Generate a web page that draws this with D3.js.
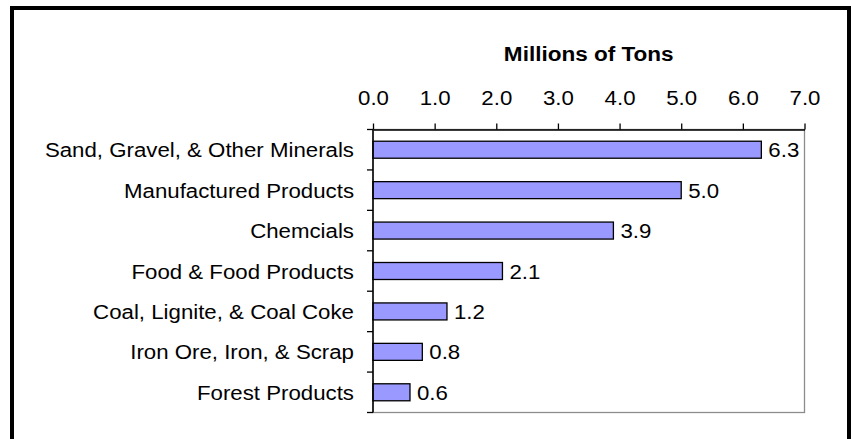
<!DOCTYPE html>
<html><head><meta charset="utf-8">
<script src="https://cdn.jsdelivr.net/npm/d3@7"></script>
<style>body{margin:0;background:#fff;}svg{display:block;font-family:"Liberation Sans",Arial,sans-serif;}</style>
</head><body>
<svg id="c" width="851" height="439"></svg>
<script>
const categories = ["Sand, Gravel, & Other Minerals","Manufactured Products","Chemcials","Food & Food Products","Coal, Lignite, & Coal Coke","Iron Ore, Iron, & Scrap","Forest Products"];
const values = [6.3, 5.0, 3.9, 2.1, 1.2, 0.8, 0.6];
const valueLabels = ["6.3","5.0","3.9","2.1","1.2","0.8","0.6"];
const tickValues = [0,1,2,3,4,5,6,7];
const axisTitle = "Millions of Tons";

const FS = 21;
const SX = 1.06; // horizontal text stretch seen in the reference
const svg = d3.select("#c");
svg.append("rect").attr("x",12).attr("y",8).attr("width",837).attr("height",450)
  .attr("fill","#fff").attr("stroke","#000").attr("stroke-width",4);

const x = d3.scaleLinear().domain([0,7]).range([373,804.5]);
const band = d3.scaleBand().domain(categories).range([129.5,412.5]);

// plot area border (right, bottom gray)
svg.append("rect").attr("x",x(0)).attr("y",129.5).attr("width",x(7)-x(0)).attr("height",283)
  .attr("fill","none").attr("stroke","#8c8c8c").attr("stroke-width",1.3);

// bars
svg.selectAll("rect.bar").data(values).join("rect").attr("class","bar")
  .attr("x",x(0)).attr("y",(d,i)=>band(categories[i])+band.bandwidth()/2-8.5)
  .attr("width",d=>x(d)-x(0)).attr("height",17)
  .attr("fill","#9999ff").attr("stroke","#000").attr("stroke-width",1.3);

// value labels
svg.selectAll("text.val").data(values).join("text").attr("class","val")
  .attr("transform",(d,i)=>`translate(${x(d)+7},${band(categories[i])+band.bandwidth()/2+7.5}) scale(${SX},1)`)
  .attr("font-size",FS).attr("fill","#000").text((d,i)=>valueLabels[i]);

// top axis
const xAxis = d3.axisTop(x).tickValues(tickValues).tickFormat(d3.format(".1f")).tickSize(6).tickSizeOuter(0).tickPadding(19);
const gx = svg.append("g").attr("transform","translate(0,129.5)").call(xAxis);
gx.select(".domain").attr("stroke","#000").attr("stroke-width",1.3);
gx.selectAll(".tick line").attr("stroke","#000").attr("stroke-width",1.3);
gx.selectAll(".tick text").attr("font-size",FS).attr("fill","#000")
  .attr("font-family","Liberation Sans, Arial, sans-serif")
  .attr("transform",`translate(0,-25) scale(${SX},1)`).attr("y",0).attr("dy","0");

// left axis
const gy = svg.append("g").attr("transform",`translate(${x(0)},0)`);
gy.append("line").attr("x1",0).attr("x2",0).attr("y1",129.5).attr("y2",412.5).attr("stroke","#000").attr("stroke-width",1.5);
const bounds = categories.map(c=>band(c)).concat([412.5]);
gy.selectAll("line.t").data(bounds).join("line").attr("class","t")
  .attr("x1",-6).attr("x2",0).attr("y1",d=>d).attr("y2",d=>d).attr("stroke","#000").attr("stroke-width",1.3);
gy.selectAll("text.cat").data(categories).join("text").attr("class","cat")
  .attr("transform",d=>`translate(-19,${band(d)+band.bandwidth()/2+7.5}) scale(${SX},1)`)
  .attr("text-anchor","end").attr("font-size",FS).attr("fill","#000").text(d=>d);

// title
svg.append("text").attr("transform",`translate(${(x(0)+x(7))/2},61) scale(1.1,1)`).attr("text-anchor","middle")
  .attr("font-size",20.5).attr("font-weight","bold").attr("fill","#000").text(axisTitle);
</script>
</body></html>
